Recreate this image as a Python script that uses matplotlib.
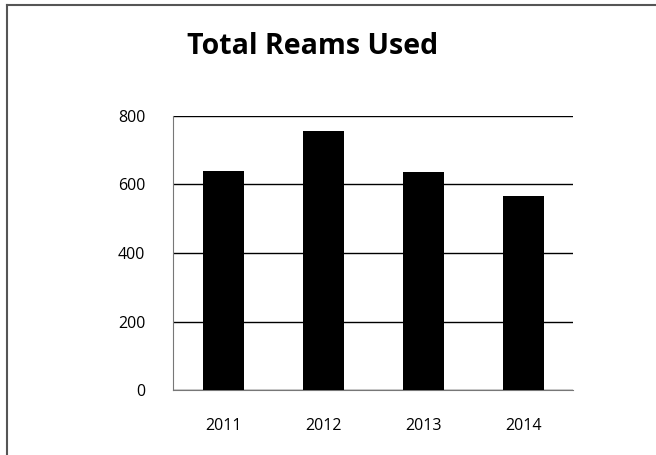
import matplotlib
matplotlib.use("Agg")
import matplotlib.pyplot as plt
from matplotlib.lines import Line2D

years = ["2011", "2012", "2013", "2014"]
reams = [640, 756, 637, 567]
yticks = [0, 200, 400, 600, 800]

plt.rcParams['font.family'] = ['Open Sans', 'DejaVu Sans']

fig = plt.figure(figsize=(6.56, 4.55), dpi=100)
ax = fig.add_axes([173 / 656, 65 / 455, 400 / 656, 274 / 455])

x = list(range(len(years)))
ax.bar(x, reams, width=0.41, color="black", zorder=3)
ax.set_xlim(-0.5, len(years) - 0.5)
ax.set_ylim(0, 800)
ax.set_yticks(yticks)
ax.set_xticks(x)
ax.set_xticklabels(years)

ax.grid(axis="y", color="black", linewidth=1.0, zorder=1)
for s in ["top", "right"]:
    ax.spines[s].set_visible(False)
ax.spines["left"].set_color("#777777")
ax.spines["bottom"].set_color("#777777")
ax.tick_params(axis="both", length=0, labelsize=11.5, colors="black")
ax.tick_params(axis="y", pad=20)
ax.tick_params(axis="x", pad=20)

fig.text(313 / 656, 1 - 47 / 455, "Total Reams Used", ha="center", va="center",
         fontsize=20.5, fontweight="bold")

# outer frame (top and left edges visible)
fig.add_artist(Line2D([6.5 / 656, 1.0], [1 - 5 / 455, 1 - 5 / 455], color="#555555", linewidth=1.5))
fig.add_artist(Line2D([6.5 / 656, 6.5 / 656], [0, 1 - 5 / 455], color="#555555", linewidth=1.5))

fig.savefig("out.png", dpi=100)
